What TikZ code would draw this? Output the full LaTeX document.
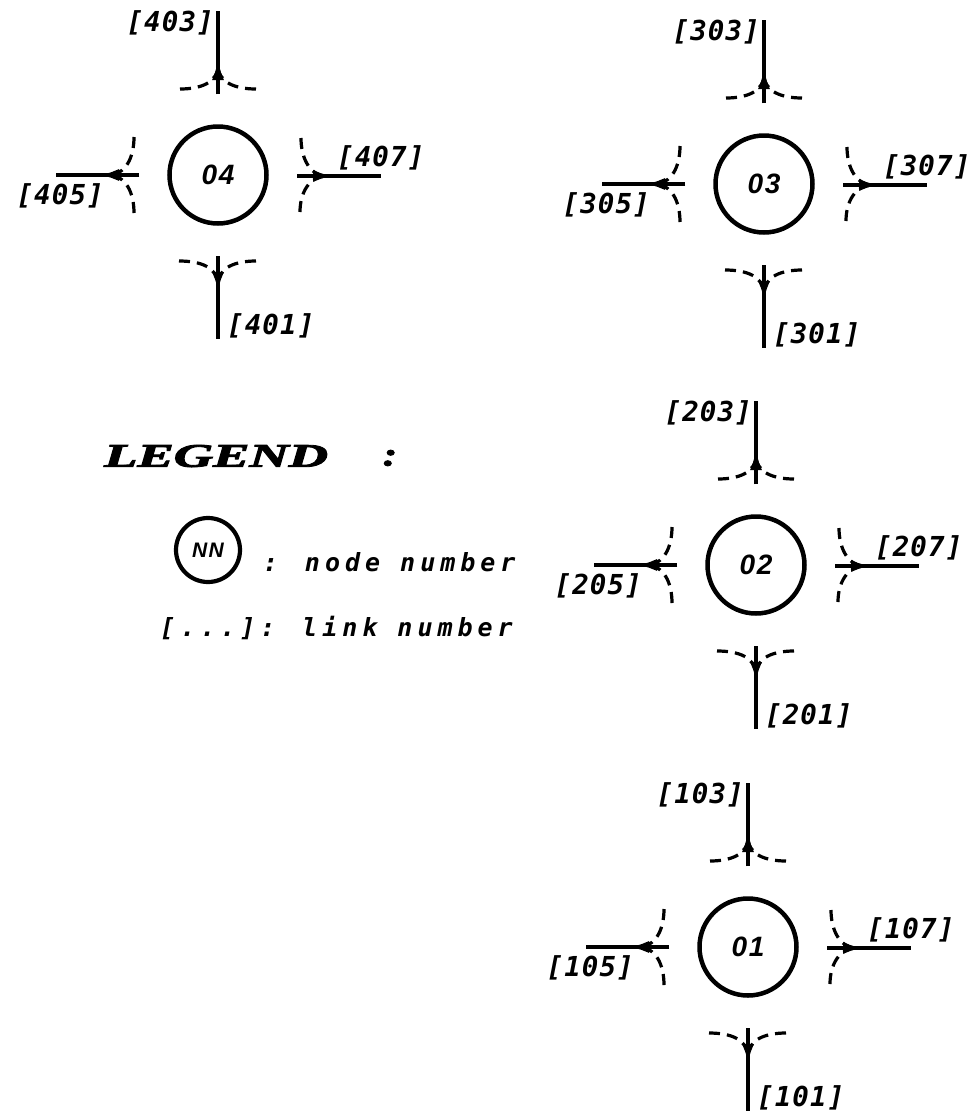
\documentclass[tikz,border=0pt]{standalone}
\usepackage{fontspec}
\usetikzlibrary{arrows.meta}
\newfontfamily\labfont[LetterSpace=4]{DejaVu Sans Mono}
\newfontfamily\legtxtfont[LetterSpace=20]{DejaVu Sans Mono}
\newfontfamily\numfont[LetterSpace=6]{Liberation Sans}
\newfontfamily\legfont[BoldItalicFeatures={FakeBold=2.5}]{Liberation Serif}
\tikzset{
  junc/.style={circle, draw, line width=4.5pt, minimum size=97pt, inner sep=0pt,
    font=\numfont\bfseries\itshape\fontsize{28}{28}\selectfont},
  juncsmall/.style={circle, draw, line width=4.2pt, minimum size=64pt, inner sep=0pt,
    font=\numfont\bfseries\itshape\fontsize{21}{21}\selectfont},
  link/.style={line width=3.4pt},
  arr/.style={line width=4.2pt, -{Latex[length=21pt,width=12pt]}},
  turn/.style={line width=3.2pt, dash pattern=on 11pt off 7pt},
  lab/.style={font=\labfont\bfseries\itshape\fontsize{27.5}{27.5}\selectfont, inner sep=0pt},
  legtext/.style={font=\legtxtfont\bfseries\itshape\fontsize{25}{25}\selectfont, inner sep=0pt},
}
\newcommand\junction[2]{%
\begin{scope}[shift={(#1)}]
  \node[junc] (n#2) at (0,0) {0#2};
  % top link (x03)
  \coordinate (t#2i) at (0,-81); \coordinate (t#2o) at (0,-164);
  \coordinate (t#2a) at (0,-116); \coordinate (t#2m) at (0,-110);
  \coordinate (t#2l) at (-38,-86); \coordinate (t#2r) at (38,-86);
  \draw[link] (t#2i) -- (t#2o);
  \draw[arr] (t#2i) -- (t#2a);
  \draw[turn] (t#2l) .. controls (-18,-86) and (0,-92) .. (t#2m);
  \draw[turn] (t#2r) .. controls (18,-86) and (0,-92) .. (t#2m);
  \node[lab, anchor=east] (l#203) at (-4,-152) {[#203]};
  % bottom link (x01)
  \coordinate (b#2i) at (0,81); \coordinate (b#2o) at (0,164);
  \coordinate (b#2a) at (0,118); \coordinate (b#2m) at (0,110);
  \coordinate (b#2l) at (-39,86); \coordinate (b#2r) at (38,86);
  \draw[link] (b#2i) -- (b#2o);
  \draw[arr] (b#2i) -- (b#2a);
  \draw[turn] (b#2l) .. controls (-18,86) and (0,92) .. (b#2m);
  \draw[turn] (b#2r) .. controls (18,86) and (0,92) .. (b#2m);
  \node[lab, anchor=west] (l#201) at (9,151) {[#201]};
  % left link (x05)
  \coordinate (w#2i) at (-79,0); \coordinate (w#2o) at (-162,0);
  \coordinate (w#2a) at (-120,0); \coordinate (w#2m) at (-110,0);
  \coordinate (w#2u) at (-84,-38); \coordinate (w#2d) at (-84,38);
  \draw[link] (w#2i) -- (w#2o);
  \draw[arr] (w#2i) -- (w#2a);
  \draw[turn] (w#2u) .. controls (-84,-18) and (-92,0) .. (w#2m);
  \draw[turn] (w#2d) .. controls (-84,18) and (-92,0) .. (w#2m);
  \node[lab, anchor=east] (l#205) at (-114,21) {[#205]};
  % right link (x07)
  \coordinate (e#2i) at (79,1); \coordinate (e#2o) at (163,1);
  \coordinate (e#2a) at (116,1); \coordinate (e#2m) at (109,1);
  \coordinate (e#2u) at (83,-37); \coordinate (e#2d) at (82,37);
  \draw[link] (e#2i) -- (e#2o);
  \draw[arr] (e#2i) -- (e#2a);
  \draw[turn] (e#2u) .. controls (83,-18) and (91,1) .. (e#2m);
  \draw[turn] (e#2d) .. controls (82,18) and (91,1) .. (e#2m);
  \node[lab, anchor=west] (l#207) at (119,-17) {[#207]};
\end{scope}}
\begin{document}
\begin{tikzpicture}[x=1pt,y=-1pt]
  \useasboundingbox (0,0) rectangle (979,1117);
  \junction{218,175}{4}
  \junction{764,184}{3}
  \junction{756,565}{2}
  \junction{748,947}{1}
  % legend
  \node[font=\legfont\bfseries\itshape\fontsize{33}{33}\selectfont, anchor=west, inner sep=0pt]
    (legend) at (104,456) {\scalebox{1.65}[1]{LEGEND}};
  \node[font=\legfont\bfseries\itshape\fontsize{33}{33}\selectfont, inner sep=0pt]
    (legcolon) at (390,458) {\scalebox{1.3}[1]{:}};
  \node[juncsmall] (nn) at (208,550) {NN};
  \node[legtext, anchor=base west] (leg1) at (263,571) {: node number};
  \node[legtext, anchor=base west] (leg2) at (160,636) {[...]: link number};
\end{tikzpicture}
\end{document}
